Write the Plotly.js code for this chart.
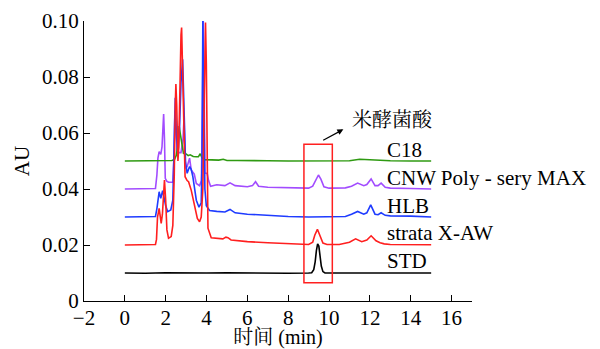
<!DOCTYPE html>
<html>
<head>
<meta charset="utf-8">
<script src="https://cdn.plot.ly/plotly-3.0.1.min.js"></script>
<style>html,body{margin:0;padding:0;background:#fff;}#chart{width:600px;height:349px;}</style>
</head>
<body>
<div id="chart"></div>
<script>
// ---- data (time in min, absorbance in AU) ----
const seriesNames = ["CNW Poly - sery MAX", "C18", "HLB", "strata X-AW", "STD"];

const tCNW = [0, 1.0, 1.5, 1.57, 1.62, 1.68, 1.76, 1.82, 1.86, 1.9, 1.94, 1.98, 2.05, 2.14, 2.35, 2.4, 2.45, 2.5, 2.56, 2.65, 2.75, 2.85, 2.9, 2.95, 3.05, 3.17, 3.25, 3.4, 3.5, 3.66, 3.75, 3.8, 3.84, 3.88, 3.92, 3.97, 4.03, 4.1, 4.2, 4.5, 4.9, 5.15, 5.4, 6.0, 6.25, 6.4, 6.55, 7, 8, 9, 9.2, 9.35, 9.48, 9.6, 9.75, 10, 10.8, 11.1, 11.4, 11.7, 11.85, 12.06, 12.25, 12.4, 12.55, 12.75, 13, 14, 15];
const yCNW = [0.0400, 0.0400, 0.0402, 0.045, 0.051, 0.0533, 0.0524, 0.055, 0.062, 0.0668, 0.058, 0.0438, 0.0428, 0.0424, 0.0424, 0.050, 0.068, 0.062, 0.054, 0.053, 0.053, 0.058, 0.0654, 0.0474, 0.048, 0.051, 0.0468, 0.0453, 0.042, 0.0412, 0.043, 0.070, 0.100, 0.080, 0.0456, 0.0456, 0.0456, 0.043, 0.041, 0.0415, 0.0412, 0.0422, 0.0412, 0.0408, 0.0412, 0.0426, 0.041, 0.0406, 0.0404, 0.0403, 0.041, 0.0435, 0.045, 0.0435, 0.0408, 0.0403, 0.0404, 0.041, 0.0421, 0.0412, 0.0416, 0.0436, 0.0412, 0.0412, 0.0421, 0.0406, 0.0403, 0.0402, 0.0400];

const tC18 = [0, 1, 2, 2.3, 2.43, 2.52, 2.6, 2.66, 2.71, 2.78, 2.87, 3.0, 3.1, 3.2, 3.35, 3.5, 3.6, 3.69, 3.78, 3.9, 4.2, 4.6, 4.82, 5.0, 5.5, 6, 7, 8, 9, 10, 11, 11.5, 12, 12.5, 13, 14, 15];
const yC18 = [0.0500, 0.0500, 0.0501, 0.0502, 0.0505, 0.052, 0.056, 0.0625, 0.060, 0.0565, 0.0527, 0.0525, 0.0519, 0.0522, 0.0516, 0.0515, 0.0515, 0.0526, 0.0512, 0.0505, 0.0503, 0.0503, 0.0506, 0.0502, 0.0502, 0.0501, 0.0501, 0.0500, 0.0500, 0.0500, 0.0501, 0.0506, 0.0504, 0.0501, 0.0501, 0.0500, 0.0500];

const tHLB = [0, 1.0, 1.5, 1.57, 1.62, 1.68, 1.76, 1.85, 1.92, 2.0, 2.1, 2.25, 2.35, 2.42, 2.47, 2.52, 2.6, 2.68, 2.75, 2.83, 2.9, 2.97, 3.05, 3.17, 3.25, 3.33, 3.5, 3.63, 3.74, 3.78, 3.82, 3.86, 3.92, 3.99, 4.15, 4.5, 4.9, 5.15, 5.4, 6, 7, 8, 9, 10, 10.8, 11.1, 11.4, 11.7, 11.85, 12.04, 12.25, 12.4, 12.55, 12.75, 13, 14, 15];
const yHLB = [0.0300, 0.0300, 0.0302, 0.033, 0.037, 0.039, 0.0367, 0.0394, 0.037, 0.034, 0.0319, 0.0325, 0.036, 0.055, 0.0726, 0.060, 0.052, 0.062, 0.078, 0.0863, 0.065, 0.050, 0.0456, 0.048, 0.047, 0.0444, 0.036, 0.0335, 0.035, 0.050, 0.1005, 0.080, 0.040, 0.034, 0.0323, 0.032, 0.0318, 0.0327, 0.0315, 0.031, 0.0305, 0.0302, 0.0300, 0.0300, 0.0302, 0.031, 0.032, 0.031, 0.0315, 0.0343, 0.031, 0.0308, 0.0315, 0.0306, 0.0304, 0.0303, 0.0300];

const tXAW = [0, 1.0, 1.5, 1.55, 1.6, 1.68, 1.74, 1.78, 1.84, 1.9, 1.94, 2.0, 2.06, 2.14, 2.27, 2.35, 2.42, 2.47, 2.5, 2.54, 2.6, 2.64, 2.7, 2.75, 2.78, 2.82, 2.88, 2.95, 3.05, 3.12, 3.25, 3.41, 3.55, 3.66, 3.74, 3.82, 3.88, 3.92, 3.95, 3.99, 4.07, 4.23, 4.5, 4.8, 4.95, 5.05, 5.2, 5.5, 6, 7, 8, 9, 9.2, 9.3, 9.43, 9.55, 9.7, 9.9, 10.5, 11, 11.3, 11.6, 11.85, 12.06, 12.3, 12.5, 12.7, 13, 14, 15];
const yXAW = [0.0200, 0.0200, 0.0202, 0.022, 0.030, 0.0331, 0.029, 0.0277, 0.031, 0.040, 0.0432, 0.036, 0.0254, 0.0224, 0.023, 0.027, 0.045, 0.070, 0.0775, 0.070, 0.050, 0.055, 0.080, 0.095, 0.0977, 0.085, 0.060, 0.0444, 0.043, 0.0426, 0.0396, 0.0343, 0.0295, 0.0283, 0.030, 0.040, 0.075, 0.097, 0.0995, 0.085, 0.026, 0.0226, 0.0224, 0.0222, 0.0228, 0.0226, 0.0218, 0.0215, 0.0212, 0.0208, 0.0204, 0.0202, 0.0210, 0.0235, 0.0256, 0.0235, 0.0207, 0.0202, 0.0202, 0.0210, 0.0222, 0.0212, 0.0218, 0.0233, 0.0215, 0.0208, 0.0204, 0.0202, 0.0202, 0.0201];

const tSTD = [0, 1, 2, 3, 4, 5, 6, 7, 8, 9, 9.15, 9.25, 9.32, 9.38, 9.44, 9.5, 9.56, 9.62, 9.7, 9.8, 10, 11, 12, 13, 14, 15];
const ySTD = [0.0100, 0.0099, 0.0101, 0.0100, 0.0100, 0.0101, 0.0100, 0.0100, 0.0099, 0.0100, 0.0101, 0.0112, 0.0140, 0.0180, 0.0204, 0.0196, 0.0162, 0.0125, 0.0105, 0.0100, 0.0100, 0.0101, 0.0100, 0.0100, 0.0101, 0.0100];

const labelY = [0.0438, 0.0539, 0.0339, 0.0244, 0.0143];
const xTicks = [-2, 0, 2, 4, 6, 8, 10, 12, 14, 16];
const yTicks = [0, 0.02, 0.04, 0.06, 0.08, 0.10];
const yTickText = ["0", "0.02", "0.04", "0.06", "0.08", "0.10"];
const compoundName = "米酵菌酸";

// ---- styling ----
const FONT = '"Times New Roman", "Liberation Serif", "Noto Serif CJK SC", "Noto Sans CJK SC", serif';
const colors = ["#a24cff", "#2f9a12", "#1f3cff", "#ff1f1f", "#000000"];
const tArr = [tCNW, tC18, tHLB, tXAW, tSTD];
const yArr = [yCNW, yC18, yHLB, yXAW, ySTD];

const traces = seriesNames.map((n, i) => ({
  x: tArr[i], y: yArr[i], name: n, type: "scatter", mode: "lines",
  line: {color: colors[i], width: 1.6}, hoverinfo: "skip"
}));

const annotations = seriesNames.map((n, i) => ({
  x: 12.72, y: labelY[i], xref: "x", yref: "y", text: n, showarrow: false,
  xanchor: "left", yanchor: "middle", font: {family: FONT, size: 21, color: "#000"}
}));
annotations.push({
  x: 13.11, y: 0.0646, xref: "x", yref: "y", text: compoundName, showarrow: false,
  xanchor: "center", yanchor: "middle", font: {family: FONT, size: 20, color: "#000"}
});
annotations.push({
  x: 10.70, y: 0.0613, xref: "x", yref: "y", ax: 9.64, ay: 0.0571, axref: "x", ayref: "y",
  text: "", showarrow: true, arrowhead: 2, arrowsize: 1, arrowwidth: 1.2, arrowcolor: "#000"
});

const layout = {
  width: 600, height: 349,
  margin: {l: 84, r: 128, t: 21, b: 48, pad: 0},
  paper_bgcolor: "#fff", plot_bgcolor: "#fff",
  showlegend: false,
  font: {family: FONT, size: 21, color: "#000"},
  xaxis: {
    range: [-2, 17], tickmode: "array", tickvals: xTicks,
    showline: true, linecolor: "#000", linewidth: 1, ticks: "inside", ticklen: 6, tickcolor: "#000",
    showgrid: false, zeroline: false, tickfont: {family: FONT, size: 21}, ticklabelstandoff: -2,
    title: {text: "时间 (min)", font: {family: FONT, size: 20}, standoff: 6}
  },
  yaxis: {
    range: [0, 0.1], tickmode: "array", tickvals: yTicks, ticktext: yTickText,
    showline: true, linecolor: "#000", linewidth: 1, ticks: "inside", ticklen: 6, tickcolor: "#000",
    showgrid: false, zeroline: false, tickfont: {family: FONT, size: 21},
    title: {text: "AU", font: {family: FONT, size: 21}, standoff: 6}
  },
  shapes: [{
    type: "rect", xref: "x", yref: "y", x0: 8.77, x1: 10.16, y0: 0.0065, y1: 0.056,
    line: {color: "#ff2020", width: 1.5}, fillcolor: "rgba(0,0,0,0)"
  }],
  annotations: annotations
};

Plotly.newPlot("chart", traces, layout, {displayModeBar: false, staticPlot: true});
</script>
</body>
</html>
